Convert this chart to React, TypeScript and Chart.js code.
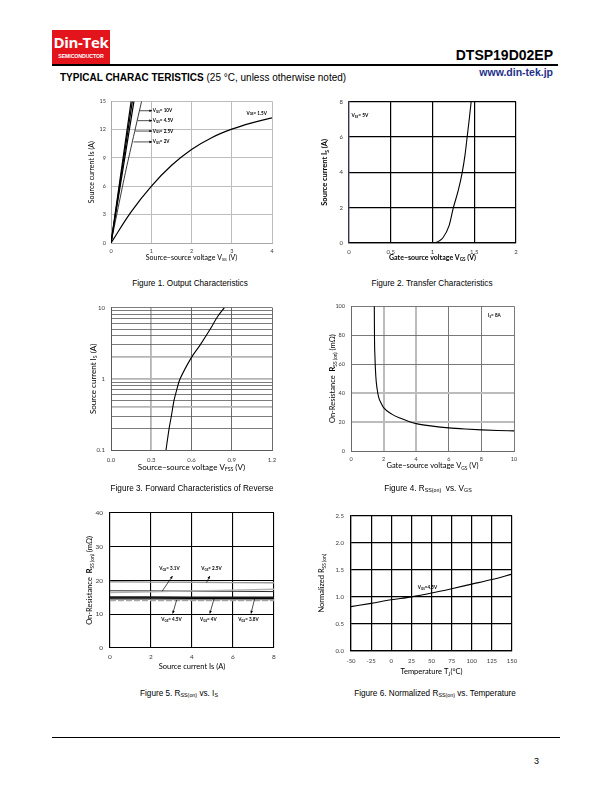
import React, { useEffect, useRef } from "react";
import { Chart, registerables } from "chart.js";

Chart.register(...registerables);

// ---------------- DATA ----------------
// Figure 1 – Output characteristics
const f1Vss15 = [0, 0.5, 1, 1.5, 2, 2.5, 3, 3.5, 4];
const f1Is15 = [0, 3.3, 6.0, 8.2, 9.9, 11.15, 12.05, 12.72, 13.25];
const f1SteepIs = [0, 7.5, 15];
const f1Vss10 = [0, 0.25, 0.5];
const f1Vss45 = [0, 0.265, 0.53];
const f1Vss25 = [0, 0.285, 0.57];
const f1Vss2 = [0, 0.36, 0.76];
const f1XTicks = [0, 1, 2, 3, 4];
const f1YTicks = [0, 3, 6, 9, 12, 15];

// Figure 2 – Transfer characteristics
const f2Vgs = [1.03, 1.08, 1.125, 1.2, 1.25, 1.31, 1.356, 1.39, 1.415, 1.44, 1.463];
const f2Is = [0, 0.12, 0.3, 1, 2, 3, 4, 5, 6, 7, 8];
const f2XTicks = [0, 0.5, 1, 1.5, 2];
const f2YTicks = [0, 2, 4, 6, 8];

// Figure 3 – Forward characteristics of reverse
const f3Vfss = [0.41, 0.433, 0.45, 0.47, 0.49, 0.515, 0.6, 0.665, 0.74, 0.795, 0.845];
const f3Is = [0.1, 0.2, 0.3, 0.5, 0.7, 1, 2, 3, 5, 7.5, 10];
const f3XTicks = [0, 0.3, 0.6, 0.9, 1.2];
const f3YTicks = [0.1, 0.2, 0.3, 0.4, 0.5, 0.6, 0.7, 0.8, 0.9, 1, 2, 3, 4, 5, 6, 7, 8, 9, 10];

// Figure 4 – Rss(on) vs Vgs
const f4Vgs = [1.43, 1.44, 1.47, 1.52, 1.6, 1.7, 1.85, 2, 2.5, 3, 4, 5, 6, 7, 8, 9, 10];
const f4Rss = [100, 80, 65, 52, 43, 37, 33, 30, 25.5, 22.8, 18.9, 17.2, 16, 15.2, 14.6, 14.2, 13.9];
const f4XTicks = [0, 2, 4, 6, 8, 10];
const f4YTicks = [0, 20, 40, 60, 80, 100];

// Figure 5 – Rss(on) vs Is
const f5Is = [0, 2, 4, 6, 8];
const f5R25 = [19.6, 19.5, 19.45, 19.35, 19.3];
const f5RRise = [16.4, 16.65, 16.9, 17.15, 17.4];
const f5R31 = [16.95, 16.9, 16.85, 16.8, 16.7];
const f5R38 = [15.05, 15.05, 15.0, 15.0, 15.0];
const f5R40 = [14.75, 14.75, 14.7, 14.7, 14.7];
const f5R45 = [14.4, 14.4, 14.35, 14.35, 14.35];
const f5RLow = [14.05, 14.05, 14.05, 14.05, 14.05];
const f5XTicks = [0, 2, 4, 6, 8];
const f5YTicks = [0, 10, 20, 30, 40];

// Figure 6 – Normalized Rss(on) vs temperature
const f6Tj = [-50, -25, 0, 25, 50, 75, 100, 125, 150];
const f6Norm = [0.82, 0.88, 0.945, 1.0, 1.07, 1.15, 1.235, 1.32, 1.42];
const f6XTicks = [-50, -25, 0, 25, 50, 75, 100, 125, 150];
const f6YTicks = [0, 0.5, 1, 1.5, 2, 2.5];

// ---------------- HELPERS ----------------
const FONT = "Lato, 'Open Sans', sans-serif";
const PADL = 50;
const PADT = 8;
const PADR = 12;
const PADB = 34;

const pts = (xs: number[], ys: number[]) => xs.map((x, i) => ({ x, y: ys[i] }));

type Seg = { t: string; sub: boolean; b: boolean };
function parseRich(s: string): Seg[] {
  const out: Seg[] = [];
  let bold = false;
  let buf = "";
  let i = 0;
  const push = (sub = false) => {
    if (buf) out.push({ t: buf, sub, b: bold });
    buf = "";
  };
  while (i < s.length) {
    if (s.startsWith("**", i)) {
      push();
      bold = !bold;
      i += 2;
      continue;
    }
    if (s.startsWith("_{", i)) {
      push();
      const j = s.indexOf("}", i);
      buf = s.slice(i + 2, j);
      push(true);
      i = j + 1;
      continue;
    }
    buf += s[i];
    i++;
  }
  push();
  return out;
}

function drawRich(
  ctx: CanvasRenderingContext2D,
  text: string,
  x: number,
  y: number,
  size: number,
  bold: boolean,
  align: "center" | "left",
  color = "#000"
) {
  const segs = parseRich(text);
  const fontFor = (s: Seg) =>
    `${bold || s.b ? "bold " : ""}${s.sub ? size * 0.65 : size}px ${FONT}`;
  let total = 0;
  const widths = segs.map((s) => {
    ctx.font = fontFor(s);
    const w = ctx.measureText(s.t).width;
    total += w;
    return w;
  });
  let cx = align === "center" ? x - total / 2 : x;
  ctx.fillStyle = color;
  ctx.textBaseline = "middle";
  ctx.textAlign = "left";
  segs.forEach((s, i) => {
    ctx.font = fontFor(s);
    ctx.fillText(s.t, cx, s.sub ? y + size * 0.28 : y);
    cx += widths[i];
  });
}

const decoPlugin = {
  id: "deco",
  afterDraw(chart: any, _args: any, opts: any) {
    const ctx: CanvasRenderingContext2D = chart.ctx;
    const a = chart.chartArea;
    const xs = chart.scales.x;
    const ys = chart.scales.y;
    ctx.save();
    (opts.arrows || []).forEach((ar: any) => {
      const x1 = xs.getPixelForValue(ar.x1);
      const y1 = ys.getPixelForValue(ar.y1);
      const x2 = xs.getPixelForValue(ar.x2);
      const y2 = ys.getPixelForValue(ar.y2);
      ctx.strokeStyle = "#000";
      ctx.fillStyle = "#000";
      ctx.lineWidth = 0.7;
      ctx.beginPath();
      ctx.moveTo(x1, y1);
      ctx.lineTo(x2, y2);
      ctx.stroke();
      const ang = Math.atan2(y2 - y1, x2 - x1);
      const h = 3;
      ctx.beginPath();
      ctx.moveTo(x2, y2);
      ctx.lineTo(x2 - h * Math.cos(ang - 0.45), y2 - h * Math.sin(ang - 0.45));
      ctx.lineTo(x2 - h * Math.cos(ang + 0.45), y2 - h * Math.sin(ang + 0.45));
      ctx.closePath();
      ctx.fill();
    });
    (opts.notes || []).forEach((n: any) => {
      drawRich(
        ctx,
        n.text,
        xs.getPixelForValue(n.x),
        ys.getPixelForValue(n.y),
        n.size || 5,
        n.bold !== false,
        n.align || "left"
      );
    });
    if (opts.xTitle) {
      const t = opts.xTitle;
      drawRich(ctx, t.text, (a.left + a.right) / 2, a.bottom + t.offset, t.size, !!t.bold, "center");
    }
    if (opts.yTitle) {
      const t = opts.yTitle;
      ctx.translate(a.left - t.offset, (a.top + a.bottom) / 2);
      ctx.rotate(-Math.PI / 2);
      drawRich(ctx, t.text, 0, 0, t.size, !!t.bold, "center");
    }
    ctx.restore();
  },
};

function axis(o: {
  isY: boolean;
  type?: string;
  min: number;
  max: number;
  ticks: number[];
  fmt: (v: number) => string;
  size: number;
  pad: number;
  gColor: (v: number) => string;
  gWidth: (v: number) => number;
  bColor: string;
  bWidth: number;
}) {
  return {
    type: o.type || "linear",
    min: o.min,
    max: o.max,
    afterBuildTicks: (ax: any) => {
      ax.ticks = o.ticks.map((v) => ({ value: v }));
    },
    afterFit: (ax: any) => {
      if (o.isY) ax.width = PADL;
      else ax.height = PADB;
    },
    ticks: {
      callback: (v: any) => o.fmt(Number(v)),
      font: { size: o.size, family: FONT },
      color: "#3a3a3a",
      padding: o.pad,
      maxRotation: 0,
      minRotation: 0,
      autoSkip: false,
    },
    grid: {
      drawTicks: false,
      color: (c: any) => o.gColor(c.tick ? c.tick.value : 0),
      lineWidth: (c: any) => o.gWidth(c.tick ? c.tick.value : 0),
    },
    border: { color: o.bColor, width: o.bWidth },
  };
}

const line = (data: any[], color: string, width: number, extra: any = {}) => ({
  data,
  showLine: true,
  borderColor: color,
  backgroundColor: color,
  borderWidth: width,
  pointRadius: 0,
  fill: false,
  ...extra,
});

function baseOptions(scales: any, deco: any) {
  return {
    responsive: false,
    animation: false,
    devicePixelRatio: 1,
    layout: { padding: { top: PADT, right: PADR, left: 0, bottom: 0 } },
    plugins: { legend: { display: false }, tooltip: { enabled: false }, deco },
    scales,
  };
}

const str = (v: number) => String(v);
const fix1 = (v: number) => v.toFixed(1);

// ---------------- CHART CONFIGS ----------------
function fig1Config(): any {
  const g = () => "#bdbdbd";
  const gw = () => 1;
  return {
    type: "scatter",
    data: {
      datasets: [
        line(pts(f1Vss15, f1Is15), "#000", 1.2, { tension: 0.4 }),
        line(pts(f1Vss10, f1SteepIs), "#000", 1.2),
        line(pts(f1Vss45, f1SteepIs), "#000", 1.2),
        line(pts(f1Vss25, f1SteepIs), "#000", 1.2),
        line(pts(f1Vss2, f1SteepIs), "#222", 0.9, { tension: 0.2 }),
      ],
    },
    options: baseOptions(
      {
        x: axis({ isY: false, min: 0, max: 4, ticks: f1XTicks, fmt: str, size: 5.5, pad: 5, gColor: g, gWidth: gw, bColor: "#a8a8a8", bWidth: 1 }),
        y: axis({ isY: true, min: 0, max: 15, ticks: f1YTicks, fmt: str, size: 5.5, pad: 5, gColor: g, gWidth: gw, bColor: "#a8a8a8", bWidth: 1 }),
      },
      {
        xTitle: { text: "Source−source voltage V_{SS} (V)", offset: 15, size: 7 },
        yTitle: { text: "Source current Is (A)", offset: 19, size: 7 },
        arrows: [
          { x1: 0.71, y1: 14.0, x2: 1.02, y2: 14.0 },
          { x1: 0.66, y1: 12.95, x2: 1.02, y2: 12.95 },
          { x1: 0.6, y1: 11.85, x2: 1.02, y2: 11.85 },
          { x1: 0.56, y1: 10.7, x2: 1.02, y2: 10.7 },
        ],
        notes: [
          { x: 1.04, y: 14.0, text: "V_{GS}= 10V", size: 4.6 },
          { x: 1.04, y: 12.95, text: "V_{GS}= 4.5V", size: 4.6 },
          { x: 1.04, y: 11.85, text: "V_{GS}= 2.5V", size: 4.6 },
          { x: 1.04, y: 10.7, text: "V_{GS}= 2V", size: 4.6 },
          { x: 3.62, y: 13.75, text: "V_{GS}= 1.5V", size: 4.6, align: "center" },
        ],
      }
    ),
    plugins: [decoPlugin],
  };
}

function fig2Config(): any {
  const g = () => "#000";
  const gw = () => 1.2;
  return {
    type: "scatter",
    data: { datasets: [line(pts(f2Vgs, f2Is), "#000", 1.1, { cubicInterpolationMode: "monotone" })] },
    options: baseOptions(
      {
        x: axis({ isY: false, min: 0, max: 2, ticks: f2XTicks, fmt: str, size: 6, pad: 5, gColor: g, gWidth: gw, bColor: "#000", bWidth: 1.2 }),
        y: axis({ isY: true, min: 0, max: 8, ticks: f2YTicks, fmt: str, size: 6, pad: 6, gColor: g, gWidth: gw, bColor: "#3c3050", bWidth: 1.2 }),
      },
      {
        xTitle: { text: "Gate−source voltage V_{GS} (V)", offset: 15, size: 7, bold: true },
        yTitle: { text: "Source current I_{S} (A)", offset: 24, size: 7.5, bold: true },
        notes: [{ x: 0.03, y: 7.2, text: "V_{SS}= 5V", size: 4.8 }],
      }
    ),
    plugins: [decoPlugin],
  };
}

function fig3Config(): any {
  const light = [0.4, 1, 2];
  const gy = (v: number) => (light.some((l) => Math.abs(l - v) < 1e-9) ? "#b4b4b4" : "#5a5a5a");
  const gyw = (v: number) => (light.some((l) => Math.abs(l - v) < 1e-9) ? 1.8 : 0.8);
  const gx = (v: number) => (Math.abs(v - 0.3) < 1e-9 ? "#b4b4b4" : "#5a5a5a");
  const gxw = (v: number) => (Math.abs(v - 0.3) < 1e-9 ? 1.8 : 0.9);
  return {
    type: "scatter",
    data: { datasets: [line(pts(f3Vfss, f3Is), "#000", 1.1, { tension: 0.3 })] },
    options: baseOptions(
      {
        x: axis({ isY: false, min: 0, max: 1.2, ticks: f3XTicks, fmt: fix1, size: 6, pad: 6, gColor: gx, gWidth: gxw, bColor: "#5a5a5a", bWidth: 1 }),
        y: axis({
          isY: true,
          type: "logarithmic",
          min: 0.1,
          max: 10,
          ticks: f3YTicks,
          fmt: (v: number) => (Math.abs(v - 0.1) < 1e-9 ? "0.1" : Math.abs(v - 1) < 1e-9 ? "1" : Math.abs(v - 10) < 1e-9 ? "10" : ""),
          size: 6,
          pad: 6,
          gColor: gy,
          gWidth: gyw,
          bColor: "#5a5a5a",
          bWidth: 1,
        }),
      },
      {
        xTitle: { text: "Source−source voltage V_{FSS} (V)", offset: 17, size: 8 },
        yTitle: { text: "Source current I_{S} (A)", offset: 18, size: 8 },
      }
    ),
    plugins: [decoPlugin],
  };
}

function fig4Config(): any {
  const lx = (v: number) => v === 2 || v === 4;
  const ly = (v: number) => v === 20 || v === 40;
  return {
    type: "scatter",
    data: { datasets: [line(pts(f4Vgs, f4Rss), "#000", 1.1, { cubicInterpolationMode: "monotone" })] },
    options: baseOptions(
      {
        x: axis({ isY: false, min: 0, max: 10, ticks: f4XTicks, fmt: str, size: 5.5, pad: 5, gColor: (v) => (lx(v) ? "#bcbcbc" : "#6a6a6a"), gWidth: (v) => (lx(v) ? 2 : 0.9), bColor: "#6a6a6a", bWidth: 1 }),
        y: axis({ isY: true, min: 0, max: 100, ticks: f4YTicks, fmt: str, size: 5.5, pad: 6, gColor: (v) => (ly(v) ? "#bcbcbc" : "#6a6a6a"), gWidth: (v) => (ly(v) ? 2 : 0.9), bColor: "#6a6a6a", bWidth: 1 }),
      },
      {
        xTitle: { text: "Gate−source voltage V_{GS} (V)", offset: 15, size: 7.5 },
        yTitle: { text: "On-Resistance  **R**_{SS (on)} (mΩ)", offset: 18, size: 7.5 },
        notes: [{ x: 8.8, y: 93.5, text: "I_{S}= 8A", size: 4.6, align: "center" }],
      }
    ),
    plugins: [decoPlugin],
  };
}

function fig5Config(): any {
  const g = () => "#000";
  const gw = () => 1.1;
  return {
    type: "scatter",
    data: {
      datasets: [
        line(pts(f5Is, f5R25), "#9a9a9a", 1.4),
        line(pts(f5Is, f5RRise), "#b0b0b0", 1.3),
        line(pts(f5Is, f5R31), "#2a2a2a", 1),
        line(pts(f5Is, f5R38), "#1a1a1a", 1.6),
        line(pts(f5Is, f5R40), "#000", 1.2),
        line(pts(f5Is, f5R45), "#8a8a8a", 1.3),
        line(pts(f5Is, f5RLow), "#a8a8a8", 1.2, { borderDash: [6, 2] }),
      ],
    },
    options: baseOptions(
      {
        x: axis({ isY: false, min: 0, max: 8, ticks: f5XTicks, fmt: str, size: 6.5, pad: 5, gColor: g, gWidth: gw, bColor: "#000", bWidth: 1.1 }),
        y: axis({ isY: true, min: 0, max: 40, ticks: f5YTicks, fmt: str, size: 6.5, pad: 7, gColor: g, gWidth: gw, bColor: "#000", bWidth: 1.1 }),
      },
      {
        xTitle: { text: "Source current Is (A)", offset: 19, size: 7.5 },
        yTitle: { text: "On-Resistance  **R**_{SS (on)} (mΩ)", offset: 20, size: 7.5 },
        arrows: [
          { x1: 2.54, y1: 16.8, x2: 3.05, y2: 21.3 },
          { x1: 4.71, y1: 19.4, x2: 4.87, y2: 21.3 },
          { x1: 3.25, y1: 14.2, x2: 3.06, y2: 10.2 },
          { x1: 5.08, y1: 14.65, x2: 4.87, y2: 10.2 },
          { x1: 7.07, y1: 15.0, x2: 6.88, y2: 10.2 },
        ],
        notes: [
          { x: 2.9, y: 23.5, text: "V_{GS}= 3.1V", size: 4.6, align: "center" },
          { x: 4.95, y: 23.5, text: "V_{GS}= 2.5V", size: 4.6, align: "center" },
          { x: 3.0, y: 8.4, text: "V_{GS}= 4.5V", size: 4.6, align: "center" },
          { x: 4.8, y: 8.4, text: "V_{GS}= 4V", size: 4.6, align: "center" },
          { x: 6.75, y: 8.4, text: "V_{GS}= 3.8V", size: 4.6, align: "center" },
        ],
      }
    ),
    plugins: [decoPlugin],
  };
}

function fig6Config(): any {
  const g = () => "#000";
  const gw = () => 1.2;
  return {
    type: "scatter",
    data: { datasets: [line(pts(f6Tj, f6Norm), "#000", 1.1, { cubicInterpolationMode: "monotone" })] },
    options: baseOptions(
      {
        x: axis({ isY: false, min: -50, max: 150, ticks: f6XTicks, fmt: str, size: 6, pad: 6, gColor: g, gWidth: gw, bColor: "#000", bWidth: 1.2 }),
        y: axis({ isY: true, min: 0, max: 2.5, ticks: f6YTicks, fmt: fix1, size: 6, pad: 7, gColor: g, gWidth: gw, bColor: "#000", bWidth: 1.2 }),
      },
      {
        xTitle: { text: "Temperature T_{J}(°C)", offset: 21, size: 7.5 },
        yTitle: { text: "Normalized R_{SS (on)}", offset: 29, size: 7.5 },
        notes: [{ x: 33, y: 1.17, text: "V_{GS}=4.5V", size: 4.6 }],
      }
    ),
    plugins: [decoPlugin],
  };
}

// ---------------- COMPONENTS ----------------
type Rect = { l: number; t: number; r: number; b: number };

function ChartBox({ rect, build }: { rect: Rect; build: () => any }) {
  const ref = useRef<HTMLCanvasElement>(null);
  const w = rect.r - rect.l + PADL + PADR;
  const h = rect.b - rect.t + PADT + PADB;
  useEffect(() => {
    const chart = new Chart(ref.current as HTMLCanvasElement, build());
    return () => chart.destroy();
  }, []);
  return (
    <div style={{ position: "absolute", left: rect.l - PADL, top: rect.t - PADT, width: w, height: h }}>
      <canvas ref={ref} width={w} height={h} style={{ width: w, height: h, display: "block" }} />
    </div>
  );
}

const subStyle: React.CSSProperties = { fontSize: "0.65em", verticalAlign: "-0.15em", lineHeight: 0 };

function Caption({ cx, top, children }: { cx: number; top: number; children: React.ReactNode }) {
  return (
    <div
      style={{
        position: "absolute",
        left: cx - 150,
        width: 300,
        top,
        textAlign: "center",
        fontSize: 8.2,
        lineHeight: 1,
        whiteSpace: "nowrap",
      }}
    >
      {children}
    </div>
  );
}

export default function App() {
  return (
    <div
      style={{
        position: "absolute",
        left: 0,
        top: 0,
        width: 612,
        height: 792,
        background: "#fff",
        overflow: "hidden",
        fontFamily: "'Liberation Sans', Arial, sans-serif",
        color: "#000",
      }}
    >
      {/* Header */}
      <div
        style={{
          position: "absolute",
          left: 52,
          top: 30,
          width: 58,
          height: 34,
          background: "#e3141c",
          color: "#fff",
          textAlign: "center",
        }}
      >
        <div style={{ fontSize: 15, fontWeight: "bold", lineHeight: 1, marginTop: 5, fontFamily: "'Open Sans', 'Liberation Sans', sans-serif", letterSpacing: -0.3 }}>
          Din-Tek
        </div>
        <div style={{ fontSize: 5.3, fontWeight: "bold", lineHeight: 1, marginTop: 4, letterSpacing: -0.15 }}>SEMICONDUCTOR</div>
      </div>
      <div style={{ position: "absolute", right: 612 - 553, top: 48, fontSize: 14, fontWeight: "bold", lineHeight: 1 }}>
        DTSP19D02EP
      </div>
      <div style={{ position: "absolute", left: 52, top: 64, width: 506, height: 1.5, background: "#000" }} />
      <div style={{ position: "absolute", right: 612 - 553, top: 66.5, fontSize: 10.5, fontWeight: "bold", lineHeight: 1, color: "#1d2f8a" }}>
        www.din-tek.jp
      </div>
      <div style={{ position: "absolute", left: 60, top: 73, fontSize: 10, lineHeight: 1, whiteSpace: "nowrap" }}>
        <b>TYPICAL CHARAC TERISTICS</b> (25 °C, unless otherwise noted)
      </div>

      {/* Charts */}
      <ChartBox rect={{ l: 111, t: 101, r: 272, b: 243 }} build={fig1Config} />
      <ChartBox rect={{ l: 349, t: 100, r: 516, b: 243 }} build={fig2Config} />
      <ChartBox rect={{ l: 111, t: 306, r: 272, b: 450 }} build={fig3Config} />
      <ChartBox rect={{ l: 351, t: 305, r: 514, b: 451 }} build={fig4Config} />
      <ChartBox rect={{ l: 110, t: 510, r: 274, b: 648 }} build={fig5Config} />
      <ChartBox rect={{ l: 351, t: 513, r: 512, b: 651 }} build={fig6Config} />

      {/* Captions */}
      <Caption cx={190} top={280}>Figure 1. Output Characteristics</Caption>
      <Caption cx={432} top={280}>Figure 2. Transfer Characteristics</Caption>
      <Caption cx={192} top={485}>Figure 3. Forward Characteristics of Reverse</Caption>
      <Caption cx={428} top={485}>
        Figure 4. R<span style={subStyle}>SS(on)</span>&nbsp; vs. V<span style={subStyle}>GS</span>
      </Caption>
      <Caption cx={179} top={690}>
        Figure 5. R<span style={subStyle}>SS(on)</span> vs. I<span style={subStyle}>S</span>
      </Caption>
      <Caption cx={435} top={690}>
        Figure 6. Normalized R<span style={subStyle}>SS(on)</span> vs. Temperature
      </Caption>

      {/* Footer */}
      <div style={{ position: "absolute", left: 52, top: 737, width: 508, height: 1, background: "#000" }} />
      <div style={{ position: "absolute", left: 534, top: 757, fontSize: 9, lineHeight: 1 }}>3</div>
    </div>
  );
}
